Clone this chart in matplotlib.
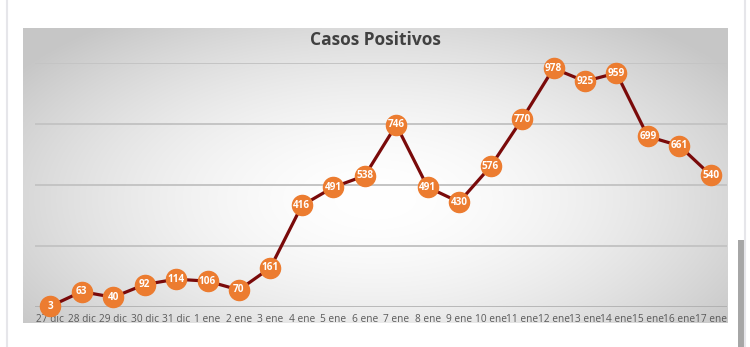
import matplotlib
matplotlib.use("Agg")
import matplotlib.pyplot as plt
import numpy as np
from matplotlib.lines import Line2D
from matplotlib.patches import Rectangle

categories = ["27 dic", "28 dic", "29 dic", "30 dic", "31 dic", "1 ene", "2 ene", "3 ene",
              "4 ene", "5 ene", "6 ene", "7 ene", "8 ene", "9 ene", "10 ene", "11 ene",
              "12 ene", "13 ene", "14 ene", "15 ene", "16 ene", "17 ene"]
values = [3, 63, 40, 92, 114, 106, 70, 161, 416, 491, 538, 746, 491, 430, 576, 770,
          978, 925, 959, 699, 661, 540]
title = "Casos Positivos"
y_ticks = [0, 250, 500, 750, 1000]

W, H = 750, 347
fig = plt.figure(figsize=(W / 100, H / 100), dpi=100)
fig.patch.set_facecolor("white")

# Panel with radial gradient
px0, py0, px1, py1 = 23, 28, 728, 323
bg = fig.add_axes([px0 / W, 1 - py1 / H, (px1 - px0) / W, (py1 - py0) / H])
nx, ny = 400, 200
xx, yy = np.meshgrid(np.linspace(0, 1, nx), np.linspace(0, 1, ny))
cx, cy = 0.5, 0.58
r = np.sqrt(((xx - cx) / 0.62) ** 2 + ((yy - cy) / 0.75) ** 2)
r = np.clip(r, 0, 1)
val = 1.0 - 0.22 * r ** 1.7
img = np.dstack([val, val, val])
bg.imshow(img, aspect="auto", extent=[0, 1, 0, 1], origin="upper", interpolation="bilinear")
bg.set_axis_off()

# Main axes
ax_l, ax_r, ax_t, ax_b = 34.5, 726.5, 63, 307
ax = fig.add_axes([ax_l / W, 1 - ax_b / H, (ax_r - ax_l) / W, (ax_b - ax_t) / H])
ax.set_facecolor("none")
n = len(values)
x = np.arange(n)
ax.set_xlim(-0.5, n - 0.5)
ax.set_ylim(0, 1000)
for t in y_ticks[1:]:
    ax.axhline(t, color="#c4c4c4", lw=1.4, zorder=1)
ax.axhline(0, color="#a9a9a9", lw=1.8, zorder=1)
for s in ax.spines.values():
    s.set_visible(False)
ax.set_yticks([])
ax.set_xticks(x)
ax.set_xticklabels(categories, fontsize=7.3, color="#595959", family="Open Sans")
ax.tick_params(axis="x", length=0, pad=5)

ax.plot(x, values, color="#7a0a0a", lw=2.3, zorder=3, clip_on=False)
ax.plot(x, values, "o", ms=14.5, color="#ec7c30", mec="#ec7c30", zorder=4, clip_on=False)
for xi, v in zip(x, values):
    ax.text(xi, v, str(v), ha="center", va="center", fontsize=7.2, color="white",
            fontweight="bold", family="Open Sans", zorder=5)

fig.text(375.5 / W, 1 - 40 / H, title, ha="center", va="center", fontsize=12.5,
         fontweight="bold", color="#404040", family="Open Sans")

# Page decorations
fig.add_artist(Line2D([6.5 / W, 6.5 / W], [0, 1], color="#e6e6ea", lw=1.5))
fig.add_artist(Line2D([745 / W, 745 / W], [0, 1], color="#e6e6ea", lw=1.5))
fig.add_artist(Rectangle((738 / W, 0), 6 / W, (347 - 240) / H, color="#a6a6a6", lw=0))

fig.savefig("out.png", dpi=100)
